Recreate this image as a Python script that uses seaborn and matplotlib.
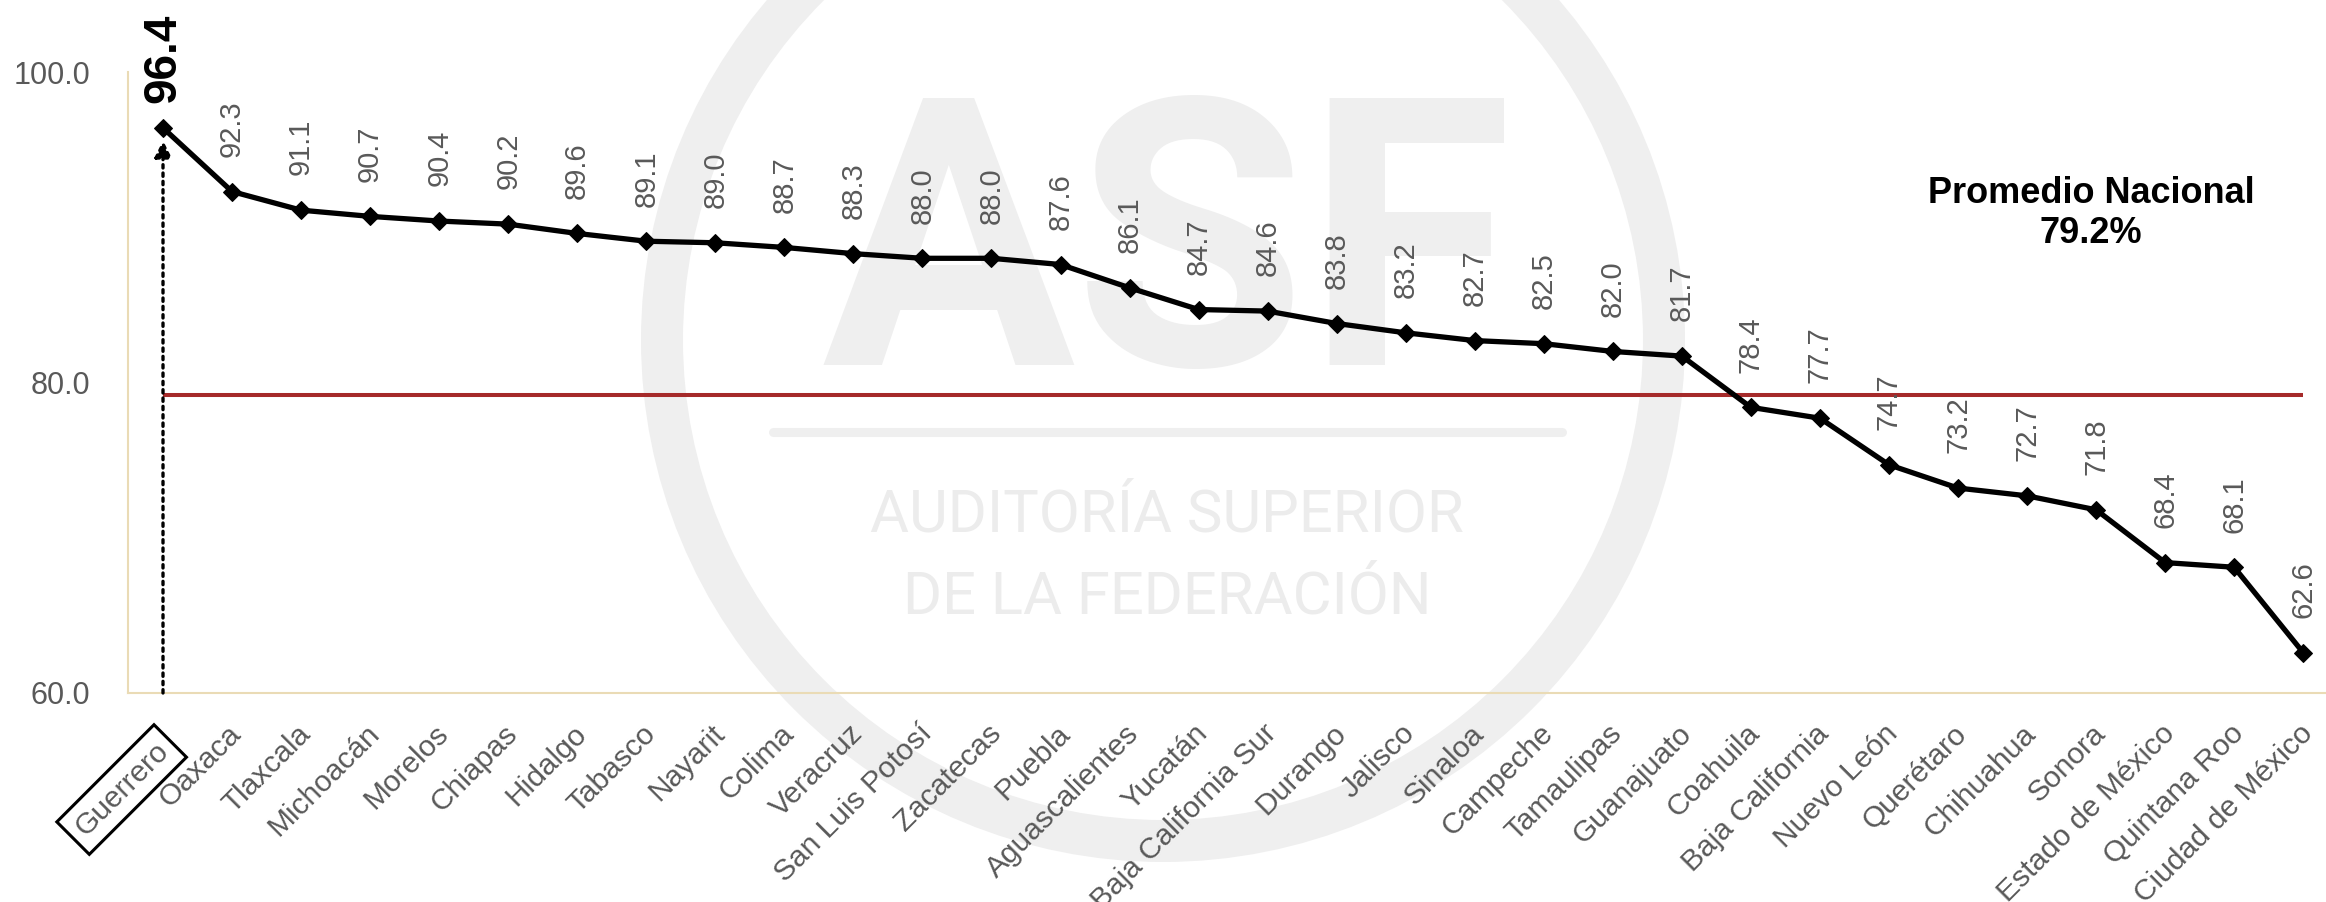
import pandas as pd
import seaborn as sns
import matplotlib.pyplot as plt
from matplotlib.patches import Ellipse
from matplotlib.lines import Line2D
from matplotlib.transforms import ScaledTranslation

estados = ["Guerrero", "Oaxaca", "Tlaxcala", "Michoacán", "Morelos", "Chiapas",
           "Hidalgo", "Tabasco", "Nayarit", "Colima", "Veracruz", "San Luis Potosí",
           "Zacatecas", "Puebla", "Aguascalientes", "Yucatán", "Baja California Sur",
           "Durango", "Jalisco", "Sinaloa", "Campeche", "Tamaulipas", "Guanajuato",
           "Coahuila", "Baja California", "Nuevo León", "Querétaro", "Chihuahua",
           "Sonora", "Estado de México", "Quintana Roo", "Ciudad de México"]
valores = [96.4, 92.3, 91.1, 90.7, 90.4, 90.2, 89.6, 89.1, 89.0, 88.7, 88.3, 88.0,
           88.0, 87.6, 86.1, 84.7, 84.6, 83.8, 83.2, 82.7, 82.5, 82.0, 81.7, 78.4,
           77.7, 74.7, 73.2, 72.7, 71.8, 68.4, 68.1, 62.6]
promedio = 79.2
y_ticks = [60.0, 80.0, 100.0]

df = pd.DataFrame({"estado": estados, "valor": valores})

sns.set_style("white")
plt.rcParams["font.family"] = ["Liberation Sans", "DejaVu Sans"]

W, H = 2326, 902
gris = "#595959"
marca = "#EFEFEF"

fig = plt.figure(figsize=(W / 100, H / 100), dpi=100)
ax = fig.add_axes([128 / W, 1 - 693 / H, 1 - 128 / W, (693 - 72) / H])
ax.set_facecolor("none")

# marca de agua ASF
fig.add_artist(Ellipse((1163 / W, 1 - 340 / H), 2 * 501 / W, 2 * 501 / H,
                       transform=fig.transFigure, fill=False, ec=marca,
                       lw=42 * 0.72, zorder=-2))
fig.text(1167 / W, 1 - 365 / H, "ASF", ha="center", va="baseline",
         fontsize=271, fontweight="bold", family=["Roboto", "DejaVu Sans"],
         color=marca, zorder=-1)
fig.add_artist(Line2D([773 / W, 1562 / W], [1 - 432 / H, 1 - 432 / H],
                      transform=fig.transFigure, color=marca, lw=6.5, zorder=-1))
for txt, yb in [("AUDITORÍA SUPERIOR", 532), ("DE LA FEDERACIÓN", 613)]:
    fig.text(1167 / W, 1 - yb / H, txt, ha="center", va="baseline",
             fontsize=43, family=["Roboto", "DejaVu Sans"],
             color="#ECECEC", zorder=-1)

n = len(estados)
ax.hlines(promedio, 0, n - 1, color="#A52A2A", lw=2.9, zorder=3)

sns.lineplot(data=df, x="estado", y="valor", sort=False, color="black", lw=3.8,
             marker="D", markersize=9, markeredgecolor="black", ax=ax, zorder=4)

# flecha punteada hacia el máximo
ax.annotate("", xy=(0, valores[0]), xytext=(0, y_ticks[0]),
            arrowprops=dict(arrowstyle="-|>,head_length=0.5,head_width=0.25",
                            linestyle=(0, (1, 1.5)), lw=2.4, color="black",
                            shrinkA=0, shrinkB=9, mutation_scale=20),
            zorder=5, annotation_clip=False)

for i, v in enumerate(valores):
    if i == 0:
        ax.annotate(f"{v:.1f}", (i, v), xytext=(0, 18), textcoords="offset points",
                    rotation=90, ha="center", va="bottom", fontsize=33,
                    fontweight="bold", color="black")
    else:
        ax.annotate(f"{v:.1f}", (i, v), xytext=(0, 25), textcoords="offset points",
                    rotation=90, ha="center", va="bottom", fontsize=21, color=gris)

ax.text(27.93, 90.9, f"Promedio Nacional\n{promedio}%", ha="center", va="center",
        fontsize=26, fontweight="bold", color="black")

ax.set_xlim(-0.507, 31.33)
ax.set_ylim(60, 100)
ax.set_yticks(y_ticks)
ax.set_yticklabels([f"{t:.1f}" for t in y_ticks])
ax.set_xticks(range(n))
ax.set_xticklabels(estados, rotation=45, ha="right", va="top",
                   rotation_mode="anchor")
ax.tick_params(axis="x", length=0, pad=19, labelsize=21.5, labelcolor=gris)
ax.tick_params(axis="y", length=0, pad=27, labelsize=22, labelcolor=gris)

desplaza = ScaledTranslation(-5 / 100, 0, fig.dpi_scale_trans)
for lbl in ax.get_xticklabels():
    lbl.set_transform(lbl.get_transform() + desplaza)
guerrero = ax.get_xticklabels()[0]
guerrero.set_bbox(dict(boxstyle="square,pad=0.3", fc="none", ec="black", lw=2.2))
guerrero.set_transform(guerrero.get_transform()
                       + ScaledTranslation(-4 / 100, -18 / 100, fig.dpi_scale_trans))
ax.set_xlabel("")
ax.set_ylabel("")

for s in ["top", "right"]:
    ax.spines[s].set_visible(False)
for s in ["left", "bottom"]:
    ax.spines[s].set_color("#EADBB5")
    ax.spines[s].set_linewidth(1.5)

fig.savefig("out.png", dpi=100)
